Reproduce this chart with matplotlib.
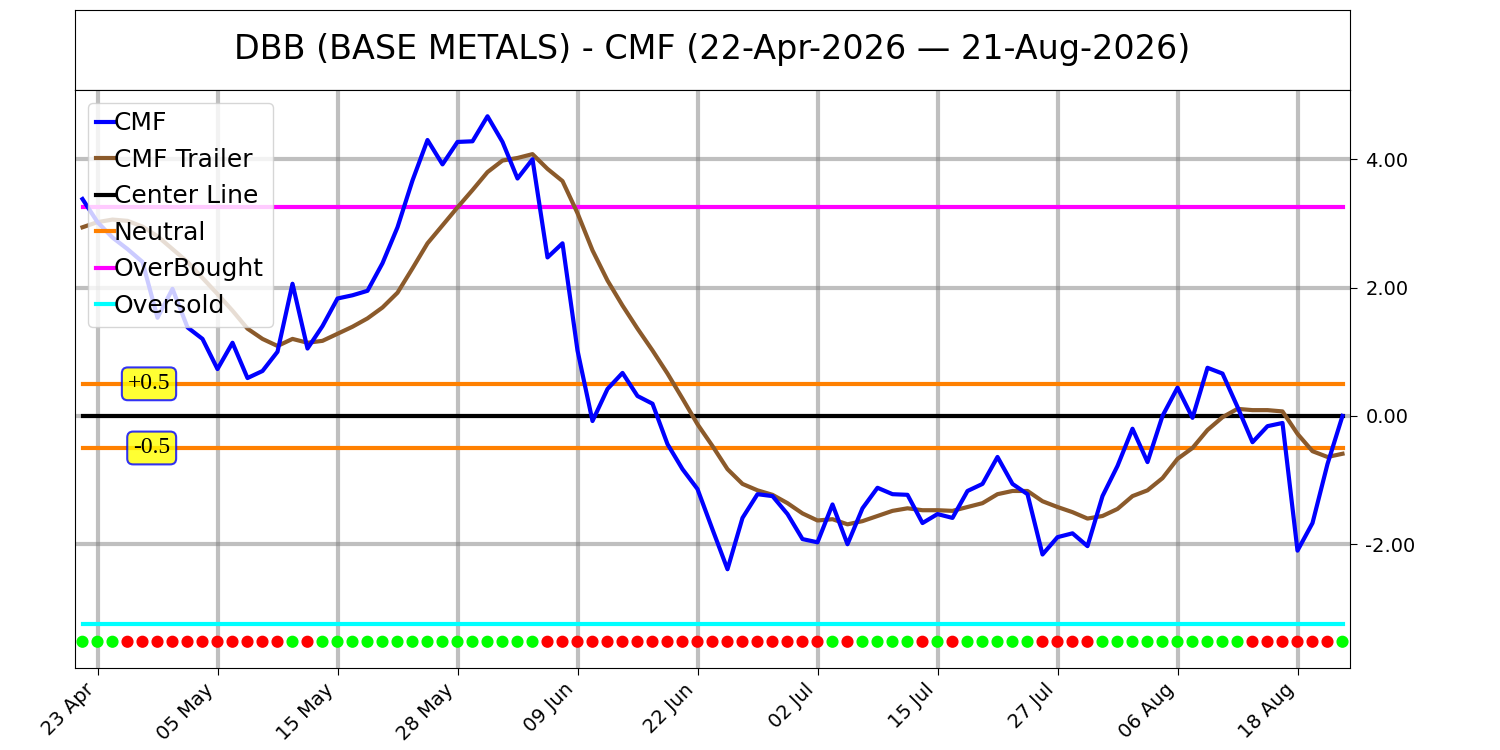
import matplotlib
matplotlib.use("Agg")
import matplotlib.pyplot as plt
import numpy as np
import pandas as pd

# trading days 22 Apr - 21 Aug 2026 (US market holidays skipped)
dates = pd.bdate_range("2026-04-22", "2026-08-21", freq="C",
                       holidays=["2026-05-25", "2026-06-19", "2026-07-03"])

cmf = [3.38, 3.02, 2.78, 2.60, 2.40, 1.53, 1.98, 1.38, 1.20, 0.73,
       1.14, 0.59, 0.70, 1.00, 2.06, 1.05, 1.40, 1.83, 1.88, 1.95,
       2.38, 2.94, 3.67, 4.30, 3.92, 4.27, 4.28, 4.67, 4.27, 3.70,
       4.00, 2.47, 2.69, 1.02, -0.08, 0.42, 0.67, 0.31, 0.19, -0.44,
       -0.83, -1.14, -1.77, -2.39, -1.59, -1.22, -1.25, -1.53, -1.92, -1.97,
       -1.38, -2.00, -1.44, -1.12, -1.22, -1.23, -1.67, -1.53, -1.59, -1.17,
       -1.06, -0.64, -1.06, -1.22, -2.16, -1.89, -1.83, -2.03, -1.25, -0.78,
       -0.20, -0.72, 0.00, 0.44, -0.03, 0.75, 0.66, 0.14, -0.41, -0.16,
       -0.11, -2.10, -1.67, -0.75, 0.00]

cmf_trailer = [2.94, 3.02, 3.06, 3.04, 2.95, 2.80, 2.60, 2.40, 2.15, 1.90,
               1.64, 1.36, 1.20, 1.09, 1.20, 1.14, 1.17, 1.28, 1.39, 1.52,
               1.69, 1.92, 2.30, 2.69, 2.97, 3.25, 3.52, 3.80, 3.98, 4.02,
               4.08, 3.85, 3.66, 3.16, 2.58, 2.11, 1.72, 1.36, 1.02, 0.66,
               0.27, -0.13, -0.47, -0.83, -1.06, -1.16, -1.23, -1.36, -1.52, -1.63,
               -1.61, -1.69, -1.64, -1.56, -1.48, -1.44, -1.47, -1.47, -1.48, -1.42,
               -1.36, -1.22, -1.17, -1.17, -1.33, -1.42, -1.50, -1.60, -1.56, -1.45,
               -1.25, -1.16, -0.97, -0.67, -0.50, -0.22, -0.02, 0.11, 0.09, 0.09,
               0.07, -0.28, -0.55, -0.64, -0.59]

# G = CMF above trailer, R = below (as shown in the dot strip)
signal = list("GGGRRRRRRRRRRRGRGGGGGGGGGGGGGGGRRRRRRRRRRRRRRRRRRRGRGGGGRGRGGGGGRRRRGGGGGGGGGGRRRRRRG")

overbought = 3.25
oversold = -3.25
neutral = 0.5
center = 0.0
dot_level = -3.52

title = "DBB (BASE METALS) - CMF (22-Apr-2026 \u2014 21-Aug-2026)"

fig = plt.figure(figsize=(15, 7.5), dpi=100)
tax = fig.add_axes([0.05, 0.88, 0.85, 0.1067])
tax.set_xticks([])
tax.set_yticks([])
tax.text(0.5, 0.5, title, ha="center", va="center", fontsize=24, transform=tax.transAxes)

ax = fig.add_axes([0.05, 0.1093, 0.85, 0.7707])
x = np.arange(len(dates))
n = len(x)

ax.plot(x, cmf, color="#0000ff", lw=3, label="CMF", zorder=5)
ax.plot(x, cmf_trailer, color="#8b5a2b", lw=3, label="CMF Trailer", zorder=4)
ax.plot(x, [center] * n, color="black", lw=3, label="Center Line")
ax.plot(x, [neutral] * n, color="#ff8000", lw=3, label="Neutral")
ax.plot(x, [-neutral] * n, color="#ff8000", lw=3)
ax.plot(x, [overbought] * n, color="#ff00ff", lw=3, label="OverBought")
ax.plot(x, [oversold] * n, color="#00ffff", lw=3, label="Oversold")

dot_colors = ["#00ff00" if s == "G" else "#ff0000" for s in signal]
ax.scatter(x, [dot_level] * n, c=dot_colors, s=60, zorder=6)

box = dict(boxstyle="round,pad=0.25", facecolor="yellow", edgecolor="blue",
           alpha=0.8, lw=1.5)
ax.text(5.85, neutral, "+0.5", ha="right", va="center", fontsize=17,
        family="Liberation Serif", bbox=box, zorder=7)
ax.text(5.85, -neutral, "-0.5", ha="right", va="center", fontsize=17,
        family="Liberation Serif", bbox=box, zorder=7)

ax.set_xlim(-0.5, n - 0.5)
tick_idx = x[1::8]
ax.set_xticks(tick_idx, [dates[i].strftime("%d %b") for i in tick_idx],
              rotation=45, ha="right", fontsize=14)
ax.set_yticks([-2, 0, 2, 4])
ax.yaxis.set_major_formatter(matplotlib.ticker.FormatStrFormatter("%.2f"))
ax.yaxis.tick_right()
ax.tick_params(axis="y", labelsize=14, length=5, pad=6)
ax.tick_params(axis="x", length=5)
ax.grid(True, color="gray", alpha=0.5, lw=3)
ax.set_axisbelow(True)

ax.legend(loc="upper left", fontsize=18, handlelength=0.7, handletextpad=0.0,
          borderaxespad=0.5, borderpad=0.35, labelspacing=0.5)

fig.savefig("out.png", dpi=100)
